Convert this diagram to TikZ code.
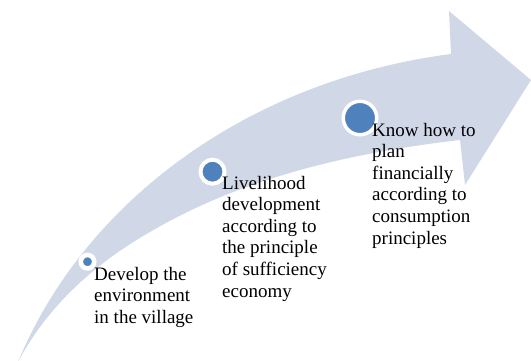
\documentclass[tikz,border=0pt]{standalone}
\usepackage{fontspec}
\setmainfont{Liberation Serif}
\definecolor{band}{HTML}{D0D8E8}
\definecolor{dotblue}{HTML}{4F81BD}
\begin{document}
\begin{tikzpicture}[x=1pt,y=-1pt,
  dot/.style={circle, draw=white, fill=dotblue, inner sep=0pt},
  label/.style={anchor=base west, inner sep=0pt, align=left,
    font=\fontsize{19}{21.6}\selectfont}]
\useasboundingbox (0,0) rectangle (531,361);
% curved arrow
\fill[band] (18,362) .. controls (85,200) and (250,80) .. (451,54)
  -- (449,11) -- (531,80) -- (465,185) -- (460,140)
  .. controls (330,155) and (230,185) .. (150,232)
  .. controls (80,272) and (40,320) .. (18,362) -- cycle;
% dots
\node[dot, line width=4.6pt, minimum size=13.4pt] (d1) at (87.5,261.7) {};
\node[dot, line width=4pt, minimum size=24pt] (d2) at (212.5,171.7) {};
\node[dot, line width=3.5pt, minimum size=33.5pt] (d3) at (360,118) {};
% labels (anchor = baseline of last line)
\node[label] (t1) at (94,323.2) {Develop the\\environment\\in the village};
\node[label] (t2) at (222,297) {Livelihood\\development\\according to\\the principle\\of sufficiency\\economy};
\node[label] (t3) at (372,244) {Know how to\\plan\\financially\\according to\\consumption\\principles};
\end{tikzpicture}
\end{document}
